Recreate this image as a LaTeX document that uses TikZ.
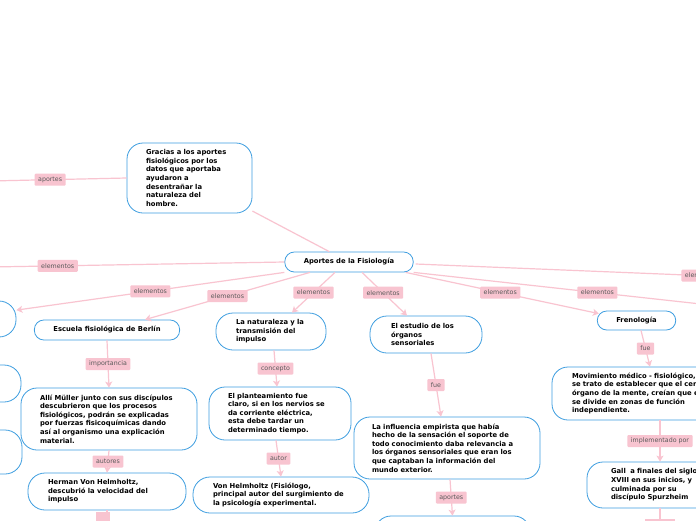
\documentclass[tikz,border=0pt]{standalone}
\usepackage{fontspec}
\setmainfont{DejaVu Sans}
\usetikzlibrary{arrows.meta}
\definecolor{mblue}{RGB}{62,158,224}
\definecolor{lpink}{RGB}{248,196,208}
\definecolor{cpink}{RGB}{249,196,208}
\definecolor{lgray}{RGB}{90,90,90}
\tikzset{
  box/.style={draw=mblue, line width=0.8pt, fill=white, rounded corners=16pt,
    font=\fontsize{6.8}{8.6}\selectfont\bfseries, align=left, inner xsep=19pt, inner ysep=0pt},
  sbox/.style={box, rounded corners=9.5pt, align=center},
  lbl/.style={fill=lpink, rounded corners=1pt, text=lgray, font=\fontsize{6.3}{7}\selectfont,
    inner xsep=3.5pt, inner ysep=0pt, minimum height=12pt},
  conn/.style={draw=cpink, line width=1.2pt},
  arr/.style={conn, -{Stealth[length=6pt,width=7pt,inset=1.5pt]}}
}
\begin{document}
\begin{tikzpicture}[x=1pt,y=-1pt]
\useasboundingbox (0,0) rectangle (696,520);
\clip (0,0) rectangle (696,520);
\fill[white] (0,0) rectangle (696,520);

% off-screen end points
\coordinate (offL1) at (-10,181);
\coordinate (offL2) at (-10,267);
\coordinate (offR1) at (710,305);
\coordinate (offR2) at (760,278);
\coordinate (offB1) at (107,545);
\coordinate (offB2) at (660,545);

% nodes
\node[box, minimum width=125pt, minimum height=70pt, text width=87pt] (gracias) at (189.5,178)
 {Gracias a los aportes\\ fisiológicos por los\\ datos que aportaba\\ ayudaron a\\ desentrañar la\\ naturaleza del\\ hombre.};
\node[sbox, minimum width=124pt, minimum height=20pt] (central) at (349,262) {Aportes de la Fisiología};
\node[box, minimum width=100pt, minimum height=36pt, rounded corners=17pt] (leftA) at (-34,319) {};
\node[box, minimum width=100pt, minimum height=37pt, rounded corners=17pt] (leftB) at (-29,383.5) {};
\node[box, minimum width=100pt, minimum height=44pt, rounded corners=17pt] (leftC) at (-28,452) {};
\node[sbox, minimum width=142pt, minimum height=20pt] (escuela) at (107,330) {Escuela fisiológica de Berlín};
\node[box, minimum width=110pt, minimum height=37pt, text width=70pt, rounded corners=17pt, inner xsep=20pt] (nat) at (271,331.5)
 {La naturaleza y la\\ transmisión del\\ impulso};
\node[box, minimum width=112pt, minimum height=37pt, text width=70pt, rounded corners=17pt, inner xsep=21pt] (estudio) at (426,334.5)
 {El estudio de los\\ órganos\\ sensoriales};
\node[sbox, minimum width=73pt, minimum height=19pt] (fren) at (636.5,320.5) {Frenología};
\node[box, minimum width=176pt, minimum height=62pt, text width=138pt] (alli) at (109,419)
 {Allí Müller junto con sus discípulos\\ descubrieron que los procesos\\ fisiológicos, podrán se explicadas\\ por fuerzas fisicoquímicas dando\\ así al organismo una explicación\\ material.};
\node[box, minimum width=158pt, minimum height=37pt, text width=118pt, inner xsep=20pt, rounded corners=17pt] (herman) at (107,491.5)
 {Herman Von Helmholtz,\\ descubrió la velocidad del\\ impulso};
\node[box, minimum width=142pt, minimum height=53pt, text width=104pt] (plant) at (280,413.5)
 {El planteamiento fue\\ claro, si en los nervios se\\ da corriente eléctrica,\\ esta debe tardar un\\ determinado tiempo.};
\node[box, minimum width=176pt, minimum height=36pt, text width=136pt, inner xsep=20pt, rounded corners=17pt] (vonh) at (281,495)
 {Von Helmholtz (Fisiólogo,\\ principal autor del surgimiento de\\ la psicología experimental.};
\node[box, minimum width=186pt, minimum height=62pt, text width=150pt, inner xsep=18pt] (infl) at (447,448)
 {La influencia empirista que había\\ hecho de la sensación el soporte de\\ todo conocimiento daba relevancia a\\ los órganos sensoriales que eran los\\ que captaban la información del\\ mundo exterior.};
\node[box, minimum width=216pt, minimum height=53pt, text width=176pt, inner xsep=20pt] (mov) at (660,393.5)
 {Movimiento médico - fisiológico,\\ se trato de establecer que el cerebro es el\\ órgano de la mente, creían que este\\ se divide en zonas de función\\ independiente.};
\node[box, minimum width=146pt, minimum height=46pt, text width=98pt, inner xsep=24pt] (gall) at (660,485)
 {Gall\ \ a finales del siglo\\ XVIII en sus inicios, y\\ culminada por su\\ discípulo Spurzheim};
\node[box, minimum width=155pt, minimum height=40pt] (bottom) at (452.5,536) {};

% connectors
\draw[conn] (offL1) -- node[lbl, pos=0.44] {aportes} (gracias.west);
\draw[conn] (gracias) -- (central);
\draw[conn] (central.west) -- node[lbl, pos=0.77] {elementos} (offL2);
\draw[arr] (central.south west) -- node[lbl, pos=0.5] {elementos} (leftA.10);
\draw[arr] ([xshift=-39pt]central.south) -- node[lbl, pos=0.5] {elementos} ([xshift=38pt]escuela.north);
\draw[arr] ([xshift=-14pt]central.south) -- node[lbl, pos=0.5] {elementos} ([xshift=21pt]nat.north);
\draw[arr] ([xshift=13pt]central.south) -- node[lbl, pos=0.47] {elementos} ([xshift=-19pt]estudio.north);
\draw[arr] ([xshift=-8pt]central.south east) -- node[lbl, pos=0.49] {elementos} ([xshift=2pt,yshift=-3pt]fren.north west);
\draw[conn] (central.south east) -- node[lbl, pos=0.62] {elementos} (offR1);
\draw[conn] ([xshift=2pt,yshift=-2pt]central.east) -- node[lbl, pos=0.83] {elementos} (offR2);

\draw[arr] (escuela.south) -- node[lbl] {importancia} (alli.north);
\draw[arr] (alli.south) -- node[lbl] {autores} (herman.north);
\draw[conn] (herman.south) -- (offB1);
\node[fill=lpink, minimum width=14pt, minimum height=12pt, inner sep=0pt] (hlab) at (103,518) {};

\draw[arr] ([xshift=3pt]nat.south) -- node[lbl] {concepto} ([xshift=-3pt]plant.north);
\draw[arr] ([xshift=-4pt]plant.south) -- node[lbl] {autor} (vonh.north);
\draw[arr] ([xshift=5pt]estudio.south) -- node[lbl] {fue} ([xshift=-6pt]infl.north);
\draw[arr] ([xshift=3pt]infl.south) -- node[lbl] {aportes} (bottom.north);
\draw[arr] ([xshift=4.5pt]fren.south) -- node[lbl] {fue} ([xshift=-10pt]mov.north);
\draw[arr] (mov.south) -- node[lbl] {implementado por} (gall.north);
\draw[conn] (gall.south) -- (offB2);
\node[fill=lpink, minimum width=30pt, minimum height=12pt, inner sep=0pt] (glab) at (660,525) {};
\end{tikzpicture}
\end{document}
